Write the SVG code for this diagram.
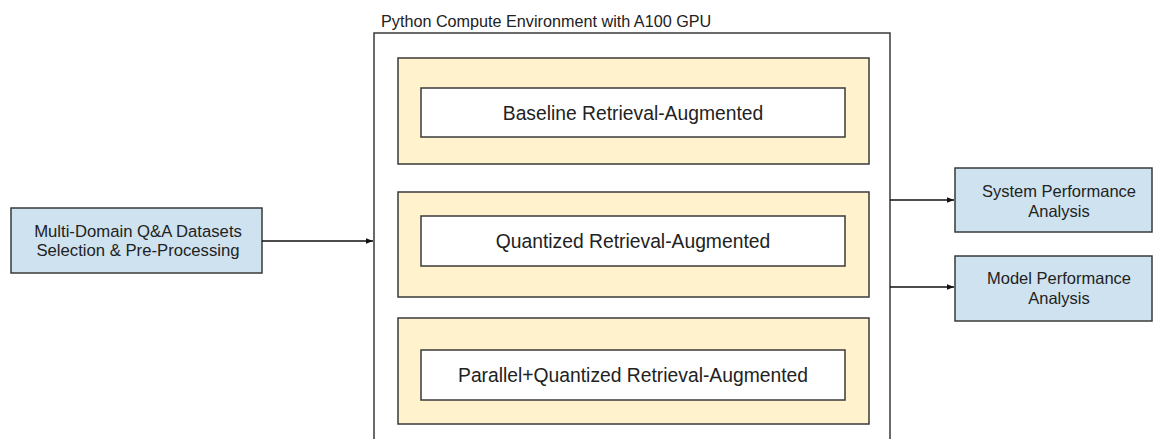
<svg xmlns="http://www.w3.org/2000/svg" width="1153" height="439" viewBox="0 0 1153 439">
<style>
text{font-family:"Liberation Sans",Arial,sans-serif;fill:#222}
.box{stroke:#3a3a3a;stroke-width:1.5}
.blue{fill:#cfe2f0}
.yel{fill:#fff2cc}
.wht{fill:#fff}
.conn{stroke:#111;stroke-width:1.3;fill:none}
</style>
<defs>
<marker id="arr" viewBox="0 0 10 10" refX="10" refY="5" markerWidth="7" markerHeight="7" markerUnits="userSpaceOnUse" orient="auto">
<path d="M0,1 L10,5 L0,9 z" fill="#111"/>
</marker>
</defs>
<rect width="1153" height="439" fill="#fff"/>
<g id="env">
<rect class="box" x="374" y="33" width="516" height="420" fill="#fff"/>
<text x="381" y="27" font-size="16.2">Python Compute Environment with A100 GPU</text>
</g>
<g id="baseline">
<rect class="box yel" x="398" y="58" width="471" height="106"/>
<rect class="box wht" x="421" y="88" width="424" height="49"/>
<text x="633" y="119.5" font-size="19.3" text-anchor="middle">Baseline Retrieval-Augmented</text>
</g>
<g id="quantized">
<rect class="box yel" x="398" y="192" width="471" height="105"/>
<rect class="box wht" x="421" y="216" width="424" height="50"/>
<text x="633" y="248" font-size="19.3" text-anchor="middle">Quantized Retrieval-Augmented</text>
</g>
<g id="parallel">
<rect class="box yel" x="398" y="318" width="471" height="106"/>
<rect class="box wht" x="421" y="350" width="424" height="50"/>
<text x="633" y="382" font-size="19.3" text-anchor="middle">Parallel+Quantized Retrieval-Augmented</text>
</g>
<g id="datasets">
<rect class="box blue" x="11" y="208" width="251" height="65"/>
<text x="138" y="237" font-size="16.7" text-anchor="middle">Multi-Domain Q&amp;A Datasets</text>
<text x="138" y="256" font-size="16.7" text-anchor="middle">Selection &amp; Pre-Processing</text>
</g>
<g id="system">
<rect class="box blue" x="955" y="168" width="197" height="64"/>
<text x="1059" y="197" font-size="16.5" text-anchor="middle">System Performance</text>
<text x="1059" y="217" font-size="16.5" text-anchor="middle">Analysis</text>
</g>
<g id="model">
<rect class="box blue" x="955" y="256" width="197" height="65"/>
<text x="1059" y="284" font-size="16.5" text-anchor="middle">Model Performance</text>
<text x="1059" y="304" font-size="16.5" text-anchor="middle">Analysis</text>
</g>
<g id="connectors">
<line class="conn" x1="262" y1="241" x2="373" y2="241" marker-end="url(#arr)"/>
<line class="conn" x1="890" y1="200" x2="954" y2="200" marker-end="url(#arr)"/>
<line class="conn" x1="890" y1="287" x2="954" y2="287" marker-end="url(#arr)"/>
</g>
</svg>
